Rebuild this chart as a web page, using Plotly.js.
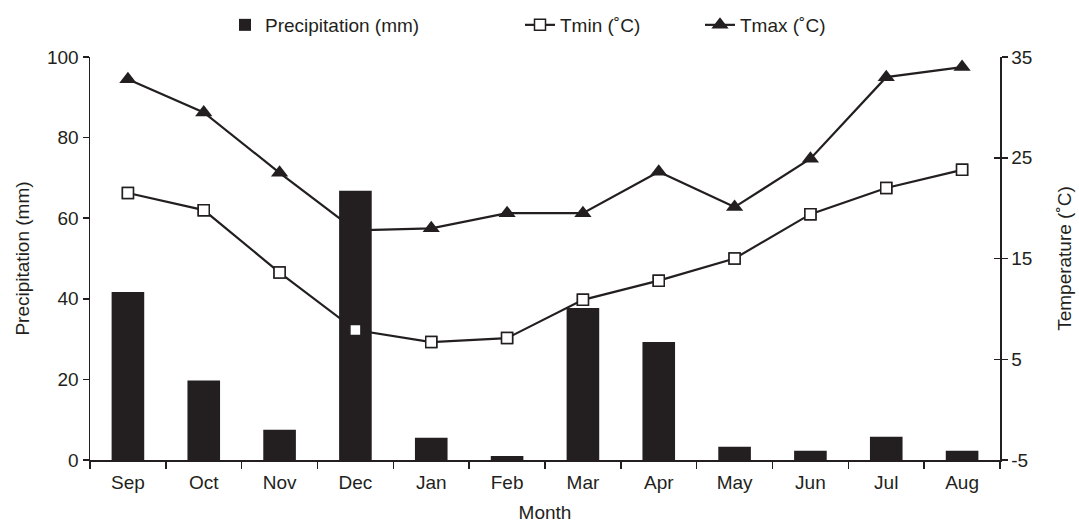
<!DOCTYPE html>
<html>
<head>
<meta charset="utf-8">
<script src="https://cdn.plot.ly/plotly-3.0.1.min.js"></script>
<style>html,body{margin:0;padding:0;background:#fff;}#chart{width:1079px;height:523px;}</style>
</head>
<body>
<div id="chart"></div>
<script>
const months = ["Sep","Oct","Nov","Dec","Jan","Feb","Mar","Apr","May","Jun","Jul","Aug"];
const precipitation = [41.7, 19.7, 7.5, 66.8, 5.5, 1.0, 37.7, 29.3, 3.3, 2.3, 5.8, 2.3];
const tmin = [21.5, 19.8, 13.6, 7.9, 6.7, 7.1, 10.9, 12.8, 15.0, 19.4, 22.0, 23.8];
const tmax = [32.8, 29.5, 23.5, 17.8, 18.0, 19.5, 19.5, 23.6, 20.1, 24.9, 33.0, 34.0];
const leftTicks = [0, 20, 40, 60, 80, 100];
const rightTicks = [-5, 5, 15, 25, 35];

const ink = '#231f20';
const font = {family: 'Liberation Sans, Arial, sans-serif', size: 19, color: ink};
const tickFont = {family: 'Liberation Sans, Arial, sans-serif', size: 19, color: ink};

const traces = [
  {
    x: months, y: precipitation, type: 'bar', name: 'Precipitation (mm)',
    yaxis: 'y2', marker: {color: ink, line: {width: 0}}, width: 0.43, legend: 'legend'
  },
  {
    x: months, y: tmin, type: 'scatter', mode: 'lines+markers', name: 'Tmin (˚C)',
    yaxis: 'y', line: {color: ink, width: 2.2}, legend: 'legend2',
    marker: {symbol: 'square', size: 11, color: '#fff', line: {color: ink, width: 1.5}}
  },
  {
    x: months, y: tmax, type: 'scatter', mode: 'lines+markers', name: 'Tmax (˚C)',
    yaxis: 'y', line: {color: ink, width: 2.2}, legend: 'legend3',
    marker: {symbol: 'triangle-up', size: 15, color: ink}
  },
  {
    x: months, y: tmin, type: 'scatter', mode: 'markers', showlegend: false,
    yaxis: 'y3', hoverinfo: 'skip',
    marker: {symbol: 'square', size: 11, color: '#fff', line: {color: ink, width: 1.5}}
  }
];

function leg(xpx) {
  return {orientation: 'h', x: (xpx - 90) / 910, xanchor: 'left', y: 1 + (57 - 25) / 403,
          yanchor: 'middle', font: font, bgcolor: 'rgba(0,0,0,0)', borderwidth: 0};
}

const layout = {
  width: 1079, height: 523,
  margin: {l: 90, r: 79, t: 57, b: 63, autoexpand: false},
  paper_bgcolor: '#fff', plot_bgcolor: '#fff',
  font: font,
  showlegend: true,
  legend: leg(225),
  legend2: leg(520),
  legend3: leg(700),
  xaxis: {
    type: 'category', categoryorder: 'array', categoryarray: months,
    range: [-0.5, 11.5], showline: true, linecolor: ink, linewidth: 1.5,
    ticks: 'outside', tickson: 'boundaries', ticklen: 7, tickcolor: ink, tickwidth: 1.5,
    ticklabelstandoff: 5,
    showgrid: false, zeroline: false, tickfont: tickFont,
    title: {text: 'Month', font: font, standoff: 14}
  },
  yaxis: {
    side: 'right', range: [-5, 35], tickvals: rightTicks, ticktext: rightTicks.map(String),
    showline: true, linecolor: ink, linewidth: 1.5, ticks: 'outside', ticklen: 6,
    tickcolor: ink, tickwidth: 1.5, showgrid: false, zeroline: false, tickfont: tickFont,
    title: {text: 'Temperature (˚C)', font: font, standoff: 26}
  },
  yaxis2: {
    overlaying: 'y', side: 'left', range: [0, 100], tickvals: leftTicks,
    showline: true, linecolor: ink, linewidth: 1.5, ticks: 'outside', ticklen: 6,
    tickcolor: ink, tickwidth: 1.5, showgrid: false, zeroline: false, tickfont: tickFont,
    title: {text: 'Precipitation (mm)', font: font, standoff: 12}
  },
  yaxis3: {
    overlaying: 'y', side: 'right', range: [-5, 35], tickvals: rightTicks,
    showline: false, ticks: 'inside', ticklen: 6, tickcolor: ink, tickwidth: 1.5,
    showticklabels: false, showgrid: false, zeroline: false
  }
};

Plotly.newPlot('chart', traces, layout, {displayModeBar: false, staticPlot: true});
</script>
</body>
</html>
